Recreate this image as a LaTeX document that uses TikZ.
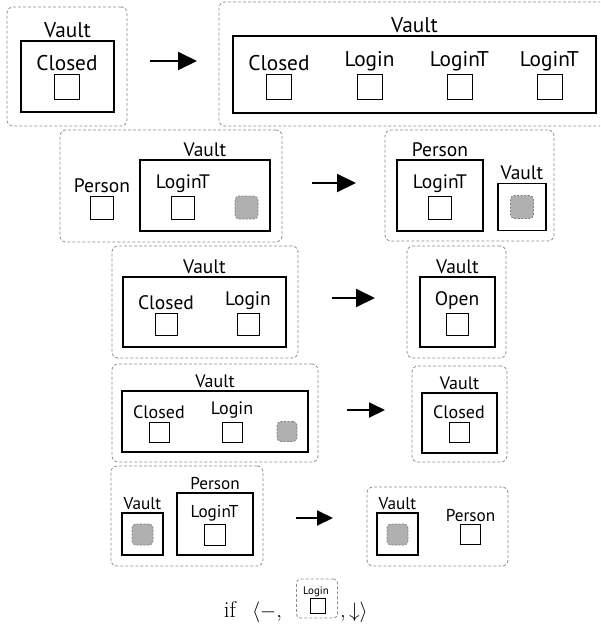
\documentclass[tikz,border=0pt]{standalone}
\usepackage{fontspec}
\setsansfont{PT Sans}
\usetikzlibrary{arrows.meta}
\newcommand\labA{\sffamily\fontsize{21.3}{24}\selectfont}
\newcommand\labB{\sffamily\fontsize{19.5}{22}\selectfont}
\newcommand\labC{\sffamily\fontsize{18}{21}\selectfont}
\newcommand\labD{\sffamily\fontsize{17.2}{20}\selectfont}
\newcommand\labE{\sffamily\fontsize{10.9}{12}\selectfont}
\begin{document}
\begin{tikzpicture}[x=1pt,y=-1pt,
  outer/.style={draw=gray!90, line width=0.8pt, dash pattern=on 3pt off 2pt,
    rounded corners=6pt, inner sep=0pt},
  cbox/.style={draw=black, line width=1.3pt, inner sep=0pt},
  sq/.style={draw=black, line width=1pt, inner sep=0pt, minimum size=#1},
  hole/.style={draw=gray, fill=gray!62, line width=0.8pt,
    dash pattern=on 2pt off 1.5pt, rounded corners=4pt, inner sep=0pt,
    minimum size=#1},
  lab/.style={anchor=south, inner sep=0pt},
  go/.style={line width=2pt, -{Triangle[length=19pt,width=18pt]}},
  gosmall/.style={line width=2pt, -{Triangle[length=16pt,width=15pt]}}]
\clip (0,0) rectangle (600,624);

% ---- rule 1: Vault[Closed] -> Vault[Closed, Login, LoginT, LoginT]
\node[outer, minimum width=120, minimum height=119] (r1a) at (67,66.5) {};
\node[cbox, minimum width=93, minimum height=71] (r1v) at (67.5,76.5) {};
\node[lab, font=\labA] (r1vl) at (67.5,37.5) {Vault};
\node[sq=25] (r1s) at (67,86.5) {};
\node[lab, font=\labA] (r1sl) at (67,71) {Closed};
\coordinate (r1p) at (150,61);
\coordinate (r1q) at (197,61);
\draw[go] (r1p) -- (r1q);
\node[outer, minimum width=393, minimum height=124] (r1b) at (415.5,64) {};
\node[cbox, minimum width=363, minimum height=77] (r1w) at (414.5,74.5) {};
\node[lab, font=\labA] (r1wl) at (414.5,33) {Vault};
\node[sq=25] (r1c) at (279,86.5) {};
\node[lab, font=\labA] (r1cl) at (279,71) {Closed};
\node[sq=25] (r1d) at (369.5,86.5) {};
\node[lab, font=\labA] (r1dl) at (369.5,71) {Login};
\node[sq=25] (r1e) at (459.5,86.5) {};
\node[lab, font=\labA] (r1el) at (459.5,71) {LoginT};
\node[sq=25] (r1f) at (549.5,86.5) {};
\node[lab, font=\labA] (r1fl) at (549.5,71) {LoginT};

% ---- rule 2: Person, Vault[LoginT, _] -> Person[LoginT], Vault[_]
\node[outer, minimum width=222, minimum height=112] (r2a) at (171,186) {};
\node[sq=23] (r2p) at (102,207.5) {};
\node[lab, font=\labB] (r2pl) at (102,192.5) {Person};
\node[cbox, minimum width=130, minimum height=71] (r2v) at (205,195.5) {};
\node[lab, font=\labB] (r2vl) at (205,157) {Vault};
\node[sq=23] (r2t) at (183,207.5) {};
\node[lab, font=\labB] (r2tl) at (183,192.5) {LoginT};
\node[hole=23] (r2h) at (246.5,207.5) {};
\coordinate (r2x) at (312,183);
\coordinate (r2y) at (356,183);
\draw[go] (r2x) -- (r2y);
\node[outer, minimum width=169, minimum height=111] (r2b) at (469.5,185.5) {};
\node[cbox, minimum width=86, minimum height=71] (r2q) at (440,195.5) {};
\node[lab, font=\labB] (r2ql) at (440,157) {Person};
\node[sq=23] (r2u) at (440,207.5) {};
\node[lab, font=\labB] (r2ul) at (440,192.5) {LoginT};
\node[cbox, minimum width=48, minimum height=47] (r2w) at (522,207) {};
\node[lab, font=\labB] (r2wl) at (522,180) {Vault};
\node[hole=23] (r2k) at (522,207) {};

% ---- rule 3: Vault[Closed, Login] -> Vault[Open]
\node[outer, minimum width=186, minimum height=112] (r3a) at (205,302) {};
\node[cbox, minimum width=163, minimum height=70] (r3v) at (204.5,312) {};
\node[lab, font=\labB] (r3vl) at (204.5,273.5) {Vault};
\node[sq=22] (r3c) at (166,324) {};
\node[lab, font=\labB] (r3cl) at (166,310) {Closed};
\node[sq=22] (r3g) at (248,324) {};
\node[lab, font=\labB] (r3gl) at (248,310) {Login};
\coordinate (r3x) at (332,298);
\coordinate (r3y) at (375,298);
\draw[go] (r3x) -- (r3y);
\node[outer, minimum width=99, minimum height=112] (r3b) at (456.5,302) {};
\node[cbox, minimum width=75, minimum height=70] (r3w) at (457.5,312) {};
\node[lab, font=\labB] (r3wl) at (457.5,273.5) {Vault};
\node[sq=22] (r3o) at (457,324) {};
\node[lab, font=\labB] (r3ol) at (457,310) {Open};

% ---- rule 4: Vault[Closed, Login, _] -> Vault[Closed]
\node[outer, minimum width=206, minimum height=98] (r4a) at (215,413) {};
\node[cbox, minimum width=186, minimum height=61] (r4v) at (215,421.5) {};
\node[lab, font=\labC] (r4vl) at (215,388) {Vault};
\node[sq=20] (r4c) at (159,432) {};
\node[lab, font=\labC] (r4cl) at (159,419) {Closed};
\node[sq=20] (r4g) at (232,432) {};
\node[lab, font=\labC] (r4gl) at (232,419) {Login};
\node[hole=20] (r4h) at (287,431.5) {};
\coordinate (r4x) at (347,410);
\coordinate (r4y) at (385,410);
\draw[gosmall] (r4x) -- (r4y);
\node[outer, minimum width=95, minimum height=96] (r4b) at (459.5,414) {};
\node[cbox, minimum width=75, minimum height=60] (r4w) at (459.5,423) {};
\node[lab, font=\labC] (r4wl) at (459.5,390) {Vault};
\node[sq=20] (r4d) at (459,432) {};
\node[lab, font=\labC] (r4dl) at (459,419) {Closed};

% ---- rule 5: Vault[_], Person[LoginT] -> Vault[_], Person
\node[outer, minimum width=152, minimum height=100] (r5a) at (187,516) {};
\node[cbox, minimum width=41, minimum height=42] (r5v) at (142.5,534) {};
\node[lab, font=\labD] (r5vl) at (142.5,510) {Vault};
\node[hole=21] (r5h) at (142.5,534.5) {};
\node[cbox, minimum width=76, minimum height=62] (r5p) at (215,524) {};
\node[lab, font=\labD] (r5pl) at (215,490) {Person};
\node[sq=21] (r5t) at (214.5,534.5) {};
\node[lab, font=\labD] (r5tl) at (214.5,521) {LoginT};
\coordinate (r5x) at (296,518);
\coordinate (r5y) at (333,518);
\draw[gosmall] (r5x) -- (r5y);
\node[outer, minimum width=141, minimum height=79] (r5b) at (437.5,526.5) {};
\node[cbox, minimum width=41, minimum height=42] (r5w) at (397.5,534) {};
\node[lab, font=\labD] (r5wl) at (397.5,510) {Vault};
\node[hole=21] (r5k) at (397.5,534.5) {};
\node[sq=20] (r5q) at (470.5,534.5) {};
\node[lab, font=\labD] (r5ql) at (470.5,522) {Person};

% ---- side condition
\node[anchor=base, inner sep=0pt, font=\fontsize{23}{26}\selectfont] (cif) at (230,617) {if};
\node[anchor=base west, inner sep=0pt, font=\fontsize{20}{24}\selectfont] (cl) at (252,617) {$\langle -,$};
\node[outer, rounded corners=4pt, minimum width=41, minimum height=39] (cbx) at (317,598.5) {};
\node[lab, font=\labE] (cbl) at (316,597.5) {Login};
\node[sq=15, line width=0.8pt] (cbs) at (317.5,606) {};
\node[anchor=base west, inner sep=0pt, font=\fontsize{20}{24}\selectfont] (cr) at (340,617) {$,\downarrow\rangle$};
\end{tikzpicture}
\end{document}
